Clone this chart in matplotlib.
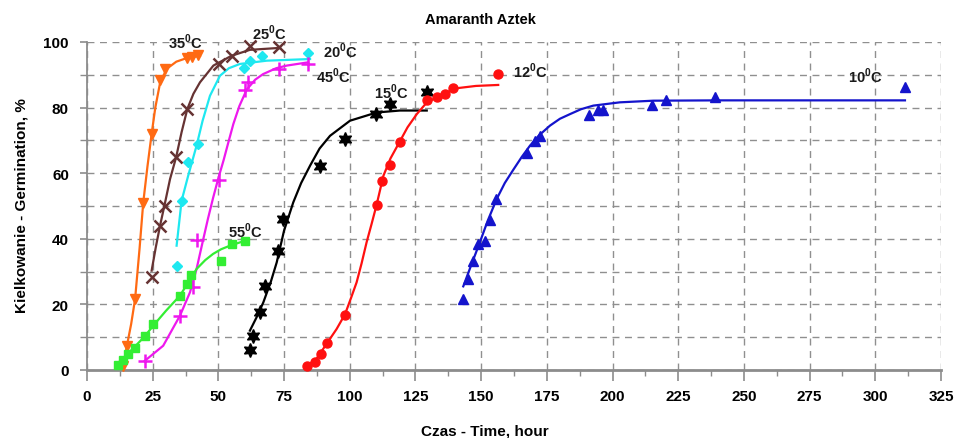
"""Germination curves of Amaranth 'Aztek' at several temperatures."""

import matplotlib

matplotlib.use("Agg")
import matplotlib.pyplot as plt
import matplotlib.ticker as mticker

plt.rcParams.update(
    {
        "font.family": ["Liberation Sans", "DejaVu Sans"],
        "mathtext.fontset": "custom",
        "mathtext.rm": "Liberation Sans:bold",
        "mathtext.bf": "Liberation Sans:bold",
    }
)

# measured points (hours, % germinated)
t35 = [13.8, 15.1, 18.3, 21.5, 24.6, 27.8, 29.7, 38, 40, 42.4]
g35 = [1.3, 7.4, 21.6, 51, 72, 88.5, 91.8, 95, 95.5, 96]
t25 = [24.6, 27.8, 29.7, 33.9, 38.2, 50.4, 55, 62, 73]
g25 = [28.3, 44, 50, 64.8, 79.6, 93.3, 95.8, 98.7, 98.4]
t20 = [34.1, 36, 38.5, 42.4, 59.7, 62, 66.5, 84.2]
g20 = [31.8, 51.6, 63.3, 68.9, 92, 94.3, 95.6, 96.5]
t45 = [22, 35.4, 40.4, 41.7, 50.4, 60.3, 61.4, 73, 84.2]
g45 = [2.8, 16.6, 25.2, 39.7, 58, 85.5, 87.7, 91.8, 93.3]
t55 = [11.9, 13.8, 15.7, 18.3, 22.1, 25.2, 35.4, 37.9, 39.5, 51, 55.1, 60.1]
g55 = [1.5, 3, 5, 6.8, 10.5, 14, 22.5, 26.2, 29, 33.2, 38.4, 39.4]
t15 = [62, 63.3, 65.8, 67.7, 72.8, 74.7, 88.7, 98.2, 110, 115.3, 129.3]
g15 = [6.2, 10.3, 17.6, 25.6, 36.2, 46, 62.1, 70.4, 78, 81.2, 84.7]
t12 = [83.6, 86.8, 88.9, 91.2, 98.2, 110.2, 112.1, 115.3, 119.1, 129.3, 133.1, 136.2, 139.2, 156.5]
g12 = [1.3, 2.5, 4.9, 8.2, 16.8, 50.4, 57.7, 62.5, 69.6, 82.2, 83.1, 84.1, 85.9, 90.2]
t10 = [143.2, 145.1, 147, 148.9, 151.4, 153.3, 155.6, 167.3, 170.5, 172.4,
       191.1, 194.6, 196.2, 215.2, 220.3, 239, 311.3]
g10 = [21.6, 27.7, 33.3, 38.4, 39.4, 45.6, 52.1, 66.3, 69.9, 71.4,
       77.7, 79.3, 79.3, 80.8, 82.3, 83.1, 86.2]

# fitted curves
ft35 = [13.8, 15.1, 16.8, 18.3, 20, 21.4, 23, 24.6, 26, 27.8, 30.3, 34, 38, 43]
fg35 = [1.3, 7, 14, 21.6, 37, 51, 62, 72, 80, 87.5, 91.8, 94, 95.1, 95.8]
ft25 = [24.6, 26.2, 27.8, 29.7, 31.6, 33.9, 36, 38.2, 40.5, 43, 48.1, 55, 62, 73.4]
fg25 = [30.3, 37.5, 44, 51, 58.2, 64.8, 72.5, 79.6, 84.2, 87.7, 92.8, 95.8, 97.6, 98.2]
ft20 = [34.1, 36, 38.5, 41.7, 44, 46.8, 50.6, 54, 58.2, 68.4, 84.9]
fg20 = [37.9, 51.6, 59.2, 68.4, 76, 83.6, 89.7, 92, 93.3, 94.3, 94.8]
ft45 = [22, 29, 35.4, 39.2, 41.7, 44, 46, 48, 50, 52, 54, 55.7, 58, 60.8, 64, 67, 72, 76, 84.2]
fg45 = [2.8, 7.4, 16.6, 23.7, 30.8, 39, 46, 52.5, 58.5, 64, 70, 75, 80.5, 85.5, 88.5, 90.2, 92, 92.8, 93.8]
ft55 = [12, 15, 18.3, 22, 25.2, 30, 35.4, 38, 41.7, 45, 48, 51, 54.4, 60.1]
fg55 = [1.5, 4.5, 7.2, 10.3, 13.5, 18, 22.7, 26, 30.8, 33.5, 35.4, 36.8, 37.9, 39.4]
ft15 = [62, 64.5, 67.1, 70, 72.2, 75, 78.5, 81.5, 84.9, 88.5, 92.5, 100.1, 110.2, 119.1, 129.3]
fg15 = [12, 16, 20.6, 27, 32.8, 42.5, 51.1, 57, 62.3, 67.5, 71.4, 76, 78.5, 79.1, 79.1]
ft12 = [83.5, 87, 91.2, 95, 98.2, 100.5, 102.6, 104.5, 106.4, 108.3, 110.2, 112.8,
        115.5, 119, 122, 125.5, 128.5, 131.8, 135, 140.7, 148, 156.5]
fg12 = [1.3, 3, 8, 12.5, 17, 22, 26.7, 32.5, 38.9, 44.5, 50.3, 59.2,
        64.5, 69.6, 74, 78, 80.8, 82.6, 84, 85.9, 86.6, 86.9]
ft10 = [143.2, 146, 149.5, 152.5, 155.9, 159, 162.2, 165.5, 168.6, 172, 176.2,
        180, 183.8, 188, 192.7, 202.8, 215.5, 240, 311.3]
fg10 = [25.5, 31.5, 38.9, 45.5, 52.1, 57, 61, 65, 68.4, 71.5, 74.5,
        76.6, 78, 79.5, 80.6, 81.6, 82.1, 82.2, 82.2]

# temperature labels and where they sit (data coords)
labels = ["35", "25", "20", "45", "15", "55", "12", "10"]
label_x = [37.3, 69.4, 96.5, 93.6, 115.9, 60.4, 168.9, 296.3]
label_y = [100.3, 102.9, 97.4, 89.7, 84.8, 42.5, 91.3, 89.7]

SERIES = [
    (t35, g35, ft35, fg35, "#ff6a13", "v", dict(ms=7)),
    (t25, g25, ft25, fg25, "#663333", "x", dict(ms=8, mew=1.8)),
    (t20, g20, ft20, fg20, "#1ee8f0", "D", dict(ms=5.5)),
    (t45, g45, ft45, fg45, "#ee18ee", "+", dict(ms=10, mew=1.8)),
    (t55, g55, ft55, fg55, "#33ee33", "s", dict(ms=6)),
    (t15, g15, ft15, fg15, "black", (6, 1, 0), dict(ms=10)),
    (t12, g12, ft12, fg12, "#ff1010", "o", dict(ms=6.5)),
    (t10, g10, ft10, fg10, "#1414cc", "^", dict(ms=7.5)),
]

fig = plt.figure(figsize=(9.55, 4.39), dpi=100)
ax = fig.add_axes([0.0911, 0.1549, 0.8942, 0.7472])

for t, g, ft, fg, color, marker, mk in SERIES:
    ax.plot(ft, fg, "-", color=color, lw=1.6, zorder=3)
    ax.plot(t, g, ls="none", marker=marker, color=color, mec=color, clip_on=False, zorder=4, **mk)

for lab, lx, ly in zip(labels, label_x, label_y):
    ax.text(lx, ly, lab + r"$^{\mathregular{0}}$C", ha="center", va="center",
            fontsize=10.5, fontweight="bold", color="#1a1a1a", zorder=5)

ax.set_xlim(0, 325)
ax.set_ylim(0, 100)
ax.xaxis.set_major_locator(mticker.MultipleLocator(25))
ax.xaxis.set_minor_locator(mticker.MultipleLocator(12.5))
ax.yaxis.set_major_locator(mticker.MultipleLocator(20))
ax.yaxis.set_minor_locator(mticker.MultipleLocator(10))

grid_kw = dict(color="#8f8f8f", lw=1.0, ls=(0, (5, 4)))
ax.xaxis.grid(True, which="major", **grid_kw)
ax.yaxis.grid(True, which="both", **grid_kw)
ax.set_axisbelow(True)

for side in ("top", "right"):
    ax.spines[side].set_visible(False)
ax.spines["left"].set_color("#8c8c8c")
ax.spines["left"].set_linewidth(1.3)
ax.spines["bottom"].set_color("#8c8c8c")
ax.spines["bottom"].set_linewidth(2.0)

ax.tick_params(axis="x", which="major", length=8, width=1.2, color="#8c8c8c", pad=6)
ax.tick_params(axis="x", which="minor", length=4, width=1.0, color="#8c8c8c")
ax.tick_params(axis="y", which="major", length=5, width=1.2, color="#8c8c8c", pad=8)
ax.tick_params(axis="y", which="minor", length=5, width=1.0, color="#8c8c8c")
for lbl in ax.get_xticklabels() + ax.get_yticklabels():
    lbl.set_fontweight("bold")
    lbl.set_fontsize(11)

fig.text(480 / 955, 1 - 20 / 439, "Amaranth Aztek", ha="center", va="center",
         fontsize=10.5, fontweight="bold")
fig.text(485 / 955, 1 - 432 / 439, "Czas - Time, hour", ha="center", va="center",
         fontsize=11, fontweight="bold")
fig.text(22 / 955, 1 - 206 / 439, "Kielkowanie - Germination, %", ha="center", va="center",
         rotation=90, fontsize=11, fontweight="bold")

fig.savefig("out.png", dpi=100)
